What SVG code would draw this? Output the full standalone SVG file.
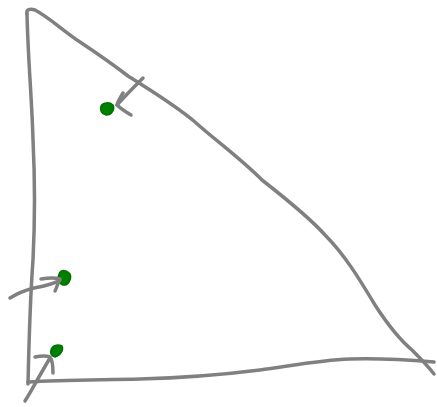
<svg xmlns="http://www.w3.org/2000/svg" width="437" height="407" viewBox="0 0 437 407">
<style>
.s{fill:none;stroke:#808080;stroke-width:3.5;stroke-linecap:round;stroke-linejoin:round}
.d{fill:#008000;stroke:#007000;stroke-width:1.5}
</style>
<rect width="437" height="407" fill="#ffffff"/>
<g id="triangle">
<path class="s" d="M27,14 C26,10 29,8 35,10 C50,18 62,30 80,42 C95,52 110,62 128,76 C150,90 175,105 195,122 C215,140 240,158 262,180 C285,198 310,218 325,235 C345,255 360,280 375,305 C388,325 400,340 412,350 C420,358 428,366 434,374"/>
<path class="s" d="M27,14 C28,60 32,100 33,140 C35,180 35,220 33,260 C30,300 29,340 28,384"/>
<path class="s" d="M28,382 C60,380 100,380 140,379 C180,378 220,375 260,370 C290,366 320,360 350,359 C380,358 410,360 434,362"/>
</g>
<g id="dots">
<path id="dot1" class="d" d="M101,106 C103,102 110,102 113,105 C115,109 112,115 106,115 C101,114 100,110 101,106 Z"/>
<path id="dot2" class="d" d="M59,274 C61,269 67,270 70,274 C72,279 68,286 63,285 C58,283 57,278 59,274 Z"/>
<path id="dot3" class="d" d="M51,350 C52,345 58,344 62,346 C64,350 60,356 55,357 C51,356 50,353 51,350 Z"/>
</g>
<g id="connectors">
<path class="s" d="M143,78 C135,86 125,96 117,105"/>
<path class="s" d="M123,93 C120,98 118,101 117,105 C121,109 126,112 131,115"/>
<path class="s" d="M10,298 C18,293 26,290 34,288 C45,286 54,284 60,280"/>
<path class="s" d="M41,279 C47,278 53,277 60,279 C58,283 57,287 55,291"/>
<path class="s" d="M25,401 C32,390 38,378 50,358"/>
<path class="s" d="M35,357 C40,356 45,355 50,357 C53,361 53,367 53,373"/>
</g>
</svg>
